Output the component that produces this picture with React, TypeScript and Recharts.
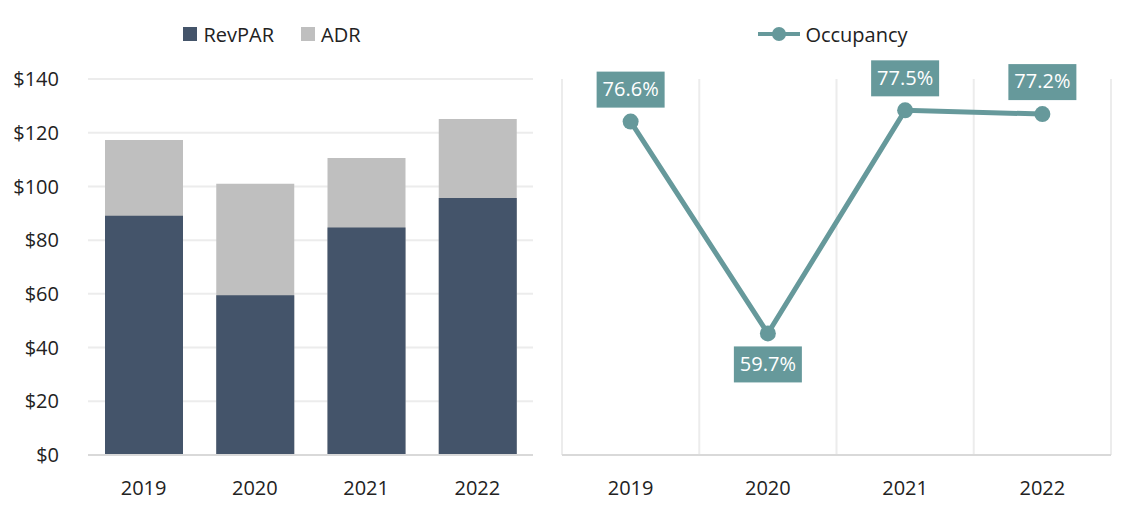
import React from 'react'
import {
  BarChart, Bar, LineChart, Line, XAxis, YAxis, CartesianGrid, Legend, LabelList,
} from 'recharts'

const years = ['2019', '2020', '2021', '2022']
const revpar = [89.1, 59.5, 84.7, 95.7]
const adr = [117.3, 101.0, 110.6, 125.1]
const occupancy = [76.6, 59.7, 77.5, 77.2]
const dollarTicks = [0, 20, 40, 60, 80, 100, 120, 140]

const DARK = '#44546a'
const GRAY = '#bfbfbf'
const TEAL = '#66999b'
const FONT = '"Open Sans", "Noto Sans", sans-serif'
const BAR_W = 78

const barData = years.map((year, i) => ({ year, revpar: revpar[i], adr: adr[i] }))
const lineData = years.map((year, i) => ({ year, occupancy: occupancy[i] }))
const minOcc = Math.min(...occupancy)

function BarLegend() {
  const items = [
    { name: 'RevPAR', color: DARK },
    { name: 'ADR', color: GRAY },
  ]
  return (
    <div style={{ display: 'flex', justifyContent: 'center', gap: 27, height: 40, alignItems: 'center', fontSize: 20, color: '#222', paddingLeft: 11 }}>
      {items.map(it => (
        <div key={it.name} style={{ display: 'flex', alignItems: 'center' }}>
          <span style={{ width: 14, height: 14, background: it.color, marginRight: 6, display: 'inline-block' }} />
          {it.name}
        </div>
      ))}
    </div>
  )
}

function LineLegend() {
  return (
    <div style={{ display: 'flex', justifyContent: 'center', height: 40, alignItems: 'center', fontSize: 20, color: '#222', paddingRight: 8 }}>
      <svg width={44} height={18} style={{ marginRight: 4 }}>
        <line x1={1} y1={9} x2={43} y2={9} stroke={TEAL} strokeWidth={4} />
        <circle cx={22} cy={9} r={7} fill={TEAL} />
      </svg>
      Occupancy
    </div>
  )
}

function OccLabel(props: any) {
  const { x, y, value } = props
  const w = 68
  const h = 36
  const below = value === minOcc
  const top = below ? y + 13 : y - 14 - h
  return (
    <g>
      <rect x={x - w / 2} y={top} width={w} height={h} fill={TEAL} />
      <text x={x} y={top + h / 2 + 1} textAnchor="middle" dominantBaseline="middle" fill="#fff" fontSize={20} fontFamily={FONT}>
        {value.toFixed(1)}%
      </text>
    </g>
  )
}

export default function App() {
  const tickStyle = { fontSize: 20, fill: '#222', fontFamily: FONT }
  return (
    <div style={{ position: 'absolute', left: 0, top: 0, width: 1135, height: 515, display: 'flex', background: '#fff', fontFamily: FONT }}>
      <BarChart width={555} height={515} data={barData} margin={{ top: 39, right: 22, left: 0, bottom: 0 }}
        barGap={-BAR_W} barSize={BAR_W}>
        <Legend verticalAlign="top" content={() => <BarLegend />} wrapperStyle={{ top: 14 }} />
        <CartesianGrid vertical={false} stroke="#ececec" strokeWidth={2} />
        <XAxis dataKey="year" tickLine={false} axisLine={{ stroke: '#d9d9d9', strokeWidth: 2 }} tick={tickStyle} tickMargin={20} height={60} />
        <YAxis domain={[0, 140]} ticks={dollarTicks} tickFormatter={(v: number) => `$${v}`} tickLine={false} axisLine={false}
          tick={tickStyle} tickMargin={23} width={88} interval={0} />
        <Bar dataKey="adr" name="ADR" fill={GRAY} isAnimationActive={false} />
        <Bar dataKey="revpar" name="RevPAR" fill={DARK} isAnimationActive={false} />
      </BarChart>
      <LineChart width={580} height={515} data={lineData} margin={{ top: 39, right: 24, left: 7, bottom: 0 }}>
        <Legend verticalAlign="top" content={() => <LineLegend />} wrapperStyle={{ top: 14 }} />
        <CartesianGrid horizontal={false} stroke="#ececec" strokeWidth={2}
          verticalCoordinatesGenerator={({ offset }: any) => years.map((_, i) => offset.left + (i * offset.width) / years.length).concat(offset.left + offset.width)} />
        <XAxis dataKey="year" scale="band" tickLine={false} axisLine={{ stroke: '#d9d9d9', strokeWidth: 2 }} tick={tickStyle} tickMargin={20} height={60} />
        <YAxis hide domain={[50, 80]} />
        <Line dataKey="occupancy" name="Occupancy" stroke={TEAL} strokeWidth={5} dot={{ r: 8, fill: TEAL, stroke: TEAL, strokeWidth: 0 }}
          isAnimationActive={false}>
          <LabelList dataKey="occupancy" content={<OccLabel />} />
        </Line>
      </LineChart>
    </div>
  )
}
